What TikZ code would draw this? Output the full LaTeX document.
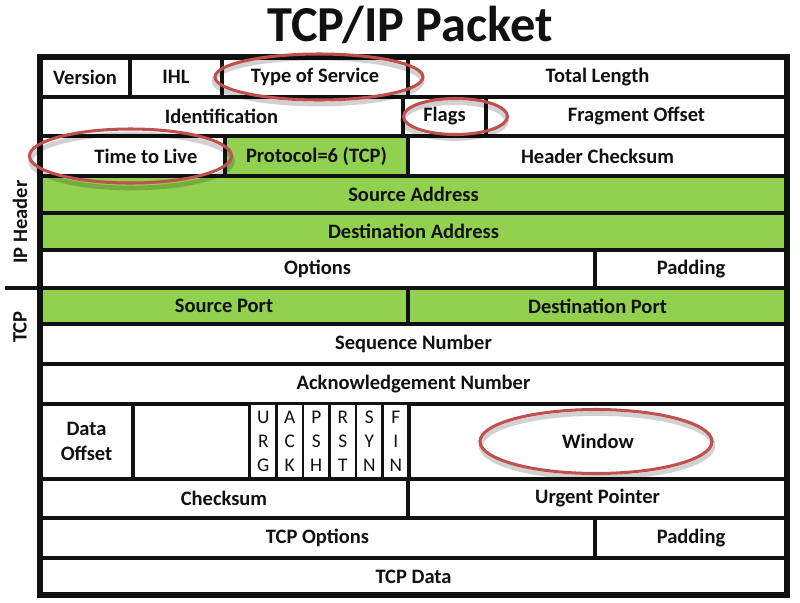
\documentclass[tikz,border=0pt]{standalone}
\usepackage{fontspec}
\setmainfont{Carlito}
\usetikzlibrary{positioning,fit}
\definecolor{pkInk}{HTML}{111111}
\definecolor{pkGreen}{HTML}{92D050}
\definecolor{pkRed}{HTML}{C0504D}
\tikzset{
  fld/.style={draw=pkInk, line width=3.8pt, fill=white, inner sep=0pt, outer sep=0pt},
  fldG/.style={fld, fill=pkGreen},
  txt/.style={text=pkInk, align=center, inner sep=0pt, font=\fontsize{17.5}{21}\selectfont\bfseries},
  flgbit/.style={fld, line width=1.8pt},
  bittxt/.style={txt, font=\fontsize{16.5}{20.5}\selectfont},
  side/.style={rotate=90, text=pkInk, font=\fontsize{17.5}{21}\selectfont\bfseries},
  ring/.style={draw=pkRed, line width=2.6pt},
  ringsh/.style={draw=black, opacity=0.18, line width=4pt},
}
\begin{document}
\begin{tikzpicture}[x=0.03cm, y=-0.03cm]
  \useasboundingbox (0,0) rectangle (800,602);
  \node[font=\fontsize{43}{50}\selectfont\bfseries, text=pkInk] (title) at (410,25) {TCP/IP Packet};
  % IP header
  \node[fld, fit={(40,57) (130,97)}, label={[txt]center:Version}] (ver) {};
  \node[fld, fit={(130,57) (222,97)}, label={[txt]center:IHL}] (ihl) {};
  \node[fld, fit={(222,57) (408,97)}, label={[txt]center:Type of Service}] (tos) {};
  \node[fld, fit={(408,57) (787,97)}, label={[txt]center:Total Length}] (tlen) {};
  \node[fld, fit={(40,97) (403,136)}, label={[txt]center:Identification}] (ident) {};
  \node[fld, fit={(403,97) (486,136)}, label={[txt]center:Flags}] (flags) {};
  \node[fld, fit={(486,97) (787,136)}, label={[txt]center:Fragment Offset}] (fragoff) {};
  \node[fld, fit={(40,136) (225,176)}, label={[txt, xshift=0.4cm]center:Time to Live}] (ttl) {};
  \node[fldG, fit={(225,136) (408,176)}, label={[txt]center:Protocol=6 (TCP)}] (proto) {};
  \node[fld, fit={(408,136) (787,176)}, label={[txt]center:Header Checksum}] (hchk) {};
  \node[fldG, fit={(40,176) (787,213)}, label={[txt]center:Source Address}] (srcaddr) {};
  \node[fldG, fit={(40,213) (787,250)}, label={[txt]center:Destination Address}] (dstaddr) {};
  \node[fld, fit={(40,250) (595,288)}, label={[txt]center:Options}] (ipopt) {};
  \node[fld, fit={(595,250) (787,288)}, label={[txt]center:Padding}] (ippad) {};
  % TCP header
  \node[fldG, fit={(40,288) (408,324)}, label={[txt]center:Source Port}] (srcport) {};
  \node[fldG, fit={(408,288) (787,324)}, label={[txt]center:Destination Port}] (dstport) {};
  \node[fld, fit={(40,324) (787,364)}, label={[txt]center:Sequence Number}] (seqnum) {};
  \node[fld, fit={(40,364) (787,404)}, label={[txt]center:Acknowledgement Number}] (acknum) {};
  \node[fld, fit={(40,404) (133,479)}, label={[txt]center:Data\\Offset}] (doff) {};
  \node[fld, fit={(133,404) (250,479)}] (rsvd) {};
  \foreach \a/\b/\c/\nm [count=\i from 0] in {U/R/G/urg, A/C/K/ack, P/S/H/psh, R/S/T/rst, S/Y/N/syn, F/I/N/fin}
    \node[flgbit, fit={({250+26.5*\i},404) ({276.5+26.5*\i},479)}, label={[bittxt]center:\a\\\b\\\c}] (\nm) {};
  \node[fld, fit={(409,404) (787,479)}, label={[txt]center:Window}] (win) {};
  \node[fld, fit={(40,479) (408,518)}, label={[txt]center:Checksum}] (tchk) {};
  \node[fld, fit={(408,479) (787,518)}, label={[txt]center:Urgent Pointer}] (urgptr) {};
  \node[fld, fit={(40,518) (595,558)}, label={[txt]center:TCP Options}] (tcpopt) {};
  \node[fld, fit={(595,518) (787,558)}, label={[txt]center:Padding}] (tcppad) {};
  \node[fld, fit={(40,558) (787,595)}, label={[txt]center:TCP Data}] (tdata) {};
  % frame and side labels
  \draw[pkInk, line width=4.8pt] (ver.north west) rectangle (tdata.south east);
  \coordinate (sepend) at (5,288);
  \draw[pkInk, line width=3.8pt] (sepend) -- (sepend -| srcport.west);
  \node[side] (iplbl) at (20,222) {IP Header};
  \node[side] (tcplbl) at (20,327) {TCP};
  % highlight rings
  \draw[ringsh] ([shift={(3,4)}]tos.center) ellipse [x radius=104, y radius=23];
  \draw[ring] ([shift={(4,0)}]tos.center) ellipse [x radius=104, y radius=23];
  \draw[ringsh] ([shift={(10,4)}]flags.center) ellipse [x radius=52, y radius=18];
  \draw[ring] ([shift={(11,0)}]flags.center) ellipse [x radius=52, y radius=18];
  \draw[ringsh] ([shift={(-1,5)}]ttl.center) ellipse [x radius=101, y radius=27];
  \draw[ring] ([shift={(-2,0)}]ttl.center) ellipse [x radius=101, y radius=27];
  \draw[ringsh] ([shift={(-1,4)}]win.center) ellipse [x radius=116, y radius=32];
  \draw[ring] ([shift={(-2,0)}]win.center) ellipse [x radius=116, y radius=32];
\end{tikzpicture}
\end{document}
